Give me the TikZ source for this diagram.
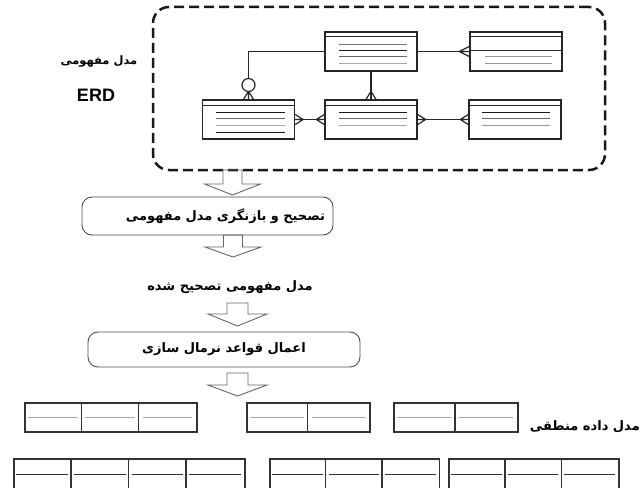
\documentclass[tikz,border=0pt]{standalone}
\usepackage{fontspec}
\usetikzlibrary{calc}
\newfontfamily\farsifont[Script=Arabic]{DejaVu Sans}
\newfontfamily\erdfont{Liberation Sans}
\TeXXeTstate=1
\newcommand{\fatext}[1]{{\farsifont\bfseries\beginR #1\endR}}
\newcommand{\crowsfoot}[3]{\draw[relline] ($(#1)+(#2)$) -- ($(#1)+(#3)$) ($(#1)+(#2)$) -- ($(#1)-(#3)$) ($(#1)+(#2)$) -- (#1);}
\newcommand{\hollowarrow}[5]{\draw[blockarrow] let \p1=(#1), \p2=(#2) in (\x1-#3,\y1) -- (\x1-#3,\y2+#5) -- (\x1-#4,\y2+#5) -- (\x2,\y2) -- (\x1+#4,\y2+#5) -- (\x1+#3,\y2+#5) -- (\x1+#3,\y1) -- cycle;}
\begin{document}
\begin{tikzpicture}[x=1pt,y=-1pt,
  entity/.style={draw=black!85,line width=1.4pt,minimum width=92,minimum height=39,inner sep=0},
  relline/.style={draw=black!85,line width=1.2pt},
  textline/.style={line width=1.1pt},
  procbox/.style={draw=black!70,line width=0.9pt,rounded corners=10,inner sep=0,font=\fontsize{13}{15}\selectfont},
  falabel/.style={inner sep=0,font=\fontsize{13}{15}\selectfont},
  blockarrow/.style={draw=black!60,line width=0.9pt,line join=miter},
  tblbox/.style={draw=black!80,line width=1.6pt,inner sep=0,anchor=north west}]
\fill[white] (0,0) rectangle (639,487);
\useasboundingbox (0,0) rectangle (639,487);
\clip (0,0) rectangle (639,487);
\node[draw=black!90,line width=2.5pt,dash pattern=on 10pt off 5pt,rounded corners=16,minimum width=452,minimum height=163,inner sep=0] (erd_frame) at (379,88.5) {};
\node[falabel,font=\fontsize{11.5}{13}\selectfont] (lbl_concept) at (99,62) {\fatext{مدل مفهومی}};
\node[inner sep=0,font=\erdfont\bfseries\fontsize{18}{18}\selectfont] (lbl_erd) at (96,95) {ERD};
\node[entity] (e_tm) at (371,51.5) {};
\node[entity] (e_tr) at (516,51.5) {};
\node[entity] (e_bl) at (248.5,119.5) {};
\node[entity] (e_bm) at (371,119.5) {};
\node[entity] (e_br) at (515,119.5) {};
\draw[black!85,line width=1pt] ($(e_tm.north west)+(0,5)$) -- ($(e_tm.north east)+(0,5)$);
\draw[black!85,line width=1pt] ($(e_tr.north west)+(0,5)$) -- ($(e_tr.north east)+(0,5)$);
\draw[black!85,line width=1pt] ($(e_tr.north west)+(0,19)$) -- ($(e_tr.north east)+(0,19)$);
\foreach \n in {e_bl,e_bm,e_br}
  \draw[black!85,line width=1pt] ($(\n.north west)+(0,6)$) -- ($(\n.north east)+(0,6)$);
\foreach \dy/\c in {13/black!55,19/black!90,25/black!60,32/black!35}
  \draw[textline,\c] ($(e_tm.north west)+(15,\dy)$) -- ++(68,0);
\foreach \dy/\c in {25/black!40,32/black!40}
  \draw[textline,\c] ($(e_tr.north west)+(16,\dy)$) -- ++(67,0);
\foreach \dy/\c in {13/black!90,19/black!60,26/black!35,33/black!90}
  \draw[textline,\c] ($(e_bl.north west)+(14,\dy)$) -- ++(69,0);
\foreach \dy/\c in {13/black!90,19/black!60,26/black!35}
  \draw[textline,\c] ($(e_bm.north west)+(15,\dy)$) -- ++(68,0);
\foreach \dy/\c in {13/black!90,19/black!60,26/black!40}
  \draw[textline,\c] ($(e_br.north west)+(14,\dy)$) -- ++(68,0);
\draw[relline] (e_tm.west) -| (e_bl.north);
\node[circle,draw=black!85,line width=1.2pt,fill=white,minimum size=13,inner sep=0] (opt_circ) at (248.5,85) {};
\crowsfoot{e_bl.north}{0,-8}{5,0}
\draw[relline] (e_tm.east) -- (e_tr.west);
\crowsfoot{e_tr.west}{-10,0}{0,5}
\draw[relline,line width=1.8pt] (e_tm.south) -- (e_bm.north);
\crowsfoot{e_bm.north}{0,-8}{5,0}
\draw[relline] (e_bl.east) -- (e_bm.west);
\crowsfoot{e_bl.east}{8,0}{0,5}
\crowsfoot{e_bm.west}{-8,0}{0,5}
\draw[relline] (e_bm.east) -- (e_br.west);
\crowsfoot{e_bm.east}{8,0}{0,5}
\crowsfoot{e_br.west}{-8,0}{0,5}
\coordinate (arr1_top) at (232.5,170);
\coordinate (arr1_tip) at (232.5,195);
\hollowarrow{arr1_top}{arr1_tip}{9.5pt}{28pt}{11pt}
\node[procbox,minimum width=251,minimum height=38,text width=235,align=right] (box_revise) at (207.5,216) {\fatext{تصحیح و بازنگری مدل مفهومی}};
\coordinate (arr2_top) at (233,235);
\coordinate (arr2_tip) at (233,257);
\hollowarrow{arr2_top}{arr2_tip}{9.5pt}{28pt}{10pt}
\node[falabel] (lbl_revised) at (230,287) {\fatext{مدل مفهومی تصحیح شده}};
\coordinate (arr3_top) at (237.5,303);
\coordinate (arr3_tip) at (237.5,326);
\hollowarrow{arr3_top}{arr3_tip}{10.5pt}{29.5pt}{12pt}
\node[procbox,minimum width=272,minimum height=35] (box_norm) at (224,349.5) {\fatext{اعمال قواعد نرمال سازی}};
\coordinate (arr4_top) at (237.5,373);
\coordinate (arr4_tip) at (237.5,396);
\hollowarrow{arr4_top}{arr4_tip}{10.5pt}{29.5pt}{11pt}
\foreach \tx/\tw/\tn [count=\ti] in {24/57.3/3,246/61.5/2,393/62/2}{
  \node[tblbox,minimum width=\tn*\tw,minimum height=29] (tbl_a\ti) at (\tx,402) {};
  \foreach \k in {1,...,\tn}
    \draw[black!35,line width=1.1pt] ($(tbl_a\ti.west)+(\k*\tw-\tw+4,0)$) -- ($(tbl_a\ti.west)+(\k*\tw-4,0)$);
  \foreach \k in {2,...,\tn}
    \draw[black!80,line width=1.6pt] ($(tbl_a\ti.north west)+(\k*\tw-\tw,0)$) -- ($(tbl_a\ti.south west)+(\k*\tw-\tw,0)$);
}
\foreach \tx/\tw/\tn [count=\ti] in {13/57.75/4,269/56.5/3,448/56.7/3}{
  \node[tblbox,minimum width=\tn*\tw,minimum height=32] (tbl_b\ti) at (\tx,458) {};
  \foreach \k in {1,...,\tn}
    \draw[black!80,line width=1.2pt] ($(tbl_b\ti.west)+(\k*\tw-\tw+3,0)$) -- ($(tbl_b\ti.west)+(\k*\tw-3,0)$);
  \foreach \k in {2,...,\tn}
    \draw[black!80,line width=1.6pt] ($(tbl_b\ti.north west)+(\k*\tw-\tw,0)$) -- ($(tbl_b\ti.south west)+(\k*\tw-\tw,0)$);
}
\node[falabel,anchor=east] (lbl_logical) at (640,427) {\fatext{مدل داده منطقی}};
\end{tikzpicture}
\end{document}
